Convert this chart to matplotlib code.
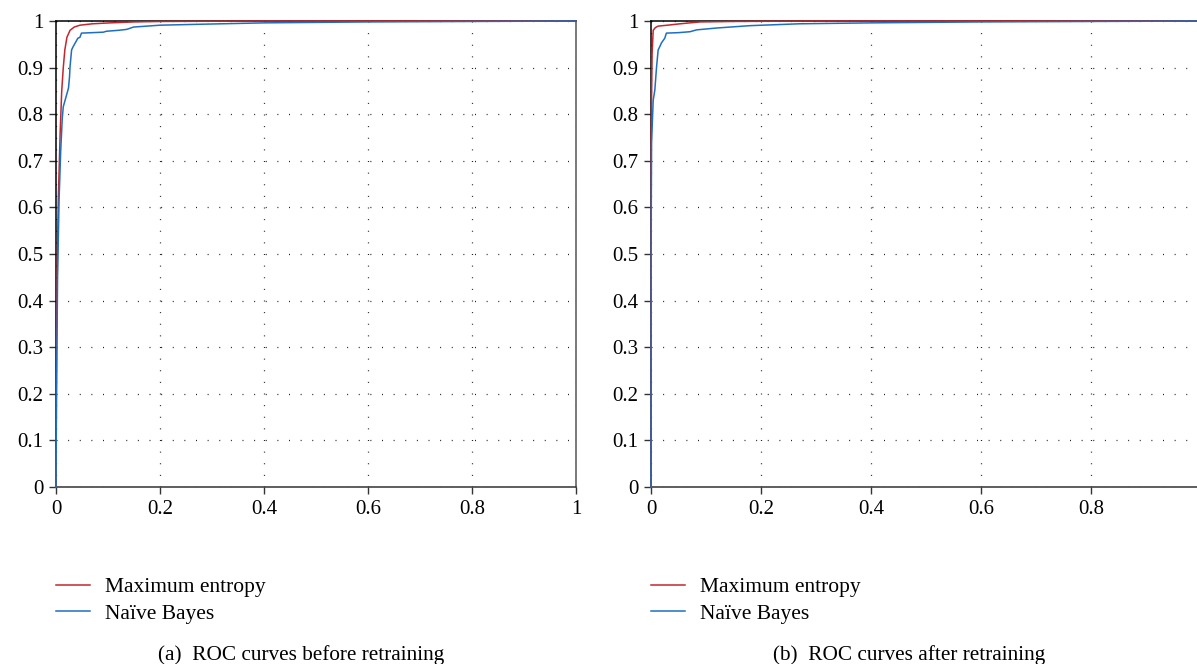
#!/usr/bin/env python3
import numpy as np
import matplotlib
matplotlib.use("Agg")
import matplotlib.pyplot as plt

plt.rcParams['font.family'] = ['Liberation Serif', 'DejaVu Serif']

# (a) before retraining
fpr_a_me = [0, 0.001, 0.003, 0.0045, 0.008, 0.011, 0.014, 0.017, 0.021, 0.027, 0.035, 0.046, 0.07, 0.104, 0.15, 0.2, 0.4, 0.6, 0.8, 1.0]
tpr_a_me = [0, 0.3, 0.52, 0.62, 0.76, 0.85, 0.9, 0.938, 0.965, 0.98, 0.987, 0.991, 0.994, 0.996, 0.998, 0.999, 1.0, 1.0, 1.0, 1.0]
fpr_a_nb = [0, 0.001, 0.003, 0.006, 0.009, 0.012, 0.014, 0.02, 0.024, 0.026, 0.027, 0.030, 0.033, 0.037, 0.042, 0.046, 0.049,
            0.07, 0.091, 0.097, 0.12, 0.136, 0.149, 0.2, 0.277, 0.4, 0.6, 0.8, 1.0]
tpr_a_nb = [0, 0.2, 0.45, 0.62, 0.72, 0.79, 0.816, 0.84, 0.856, 0.88, 0.902, 0.938, 0.945, 0.953, 0.963, 0.965, 0.974,
            0.975, 0.976, 0.978, 0.98, 0.982, 0.987, 0.991, 0.993, 0.996, 0.998, 0.999, 1.0]

# (b) after retraining
fpr_b_me = [0, 0.0005, 0.001, 0.002, 0.004, 0.008, 0.013, 0.03, 0.053, 0.089, 0.15, 0.3, 1.0]
tpr_b_me = [0, 0.75, 0.83, 0.93, 0.98, 0.986, 0.989, 0.991, 0.994, 0.998, 0.999, 1.0, 1.0]
fpr_b_nb = [0, 0.0005, 0.001, 0.004, 0.007, 0.01, 0.013, 0.016, 0.019, 0.022, 0.025, 0.028, 0.05, 0.071, 0.083,
            0.12, 0.18, 0.27, 0.4, 0.6, 0.8, 1.0]
tpr_b_nb = [0, 0.6, 0.738, 0.83, 0.852, 0.9, 0.938, 0.945, 0.953, 0.958, 0.963, 0.974, 0.975, 0.977, 0.981,
            0.985, 0.99, 0.994, 0.996, 0.998, 0.999, 1.0]

labels = ["Maximum entropy", "Na\u00efve Bayes"]
captions = ["(a)  ROC curves before retraining", "(b)  ROC curves after retraining"]
red = "#c1272d"
blue = "#1f6fc0"

fig = plt.figure(figsize=(11.97, 6.64), dpi=100)
ax1 = fig.add_axes([56/1197, 1-487/664, 520/1197, 466/664])
ax2 = fig.add_axes([651/1197, 1-487/664, 550/1197, 466/664])

panels = [(ax1, fpr_a_me, tpr_a_me, fpr_a_nb, tpr_a_nb), (ax2, fpr_b_me, tpr_b_me, fpr_b_nb, tpr_b_nb)]
for i, (ax, fm, tm, fn, tn) in enumerate(panels):
    ax.plot(fm, tm, color=red, lw=1.1, label=labels[0], clip_on=False, zorder=3)
    ax.plot(fn, tn, color=blue, lw=1.1, label=labels[1], clip_on=False, zorder=4)
    ax.set_xlim(0, 1)
    ax.set_ylim(0, 1)
    ax.set_yticks(np.arange(0, 1.01, 0.1))
    ax.set_yticklabels(["0"] + ["%.1f" % v for v in np.arange(0.1, 0.95, 0.1)] + ["1"])
    if i == 0:
        ax.set_xticks([0, 0.2, 0.4, 0.6, 0.8, 1.0])
        ax.set_xticklabels(["0", "0.2", "0.4", "0.6", "0.8", "1"])
    else:
        ax.set_xticks([0, 0.2, 0.4, 0.6, 0.8])
        ax.set_xticklabels(["0", "0.2", "0.4", "0.6", "0.8"])
    ax.grid(True, color="#222222", linestyle=(0, (0.8, 8.5)), linewidth=0.9)
    ax.tick_params(direction="out", length=5, width=1, labelsize=15, pad=4, color="#333333")
    for s in ["left", "bottom", "top", "right"]:
        ax.spines[s].set_linewidth(1.1)
    ax.spines["left"].set_color("black")
    ax.spines["bottom"].set_color("#333333")
    ax.spines["right"].set_color("#555555")
    ax.spines["top"].set_color("black")
    ax.legend(loc="upper left", bbox_to_anchor=(ax.get_position().x0, 0.131), bbox_transform=fig.transFigure,
              frameon=False, fontsize=15.5, handlelength=1.58, handletextpad=0.7, borderpad=0, borderaxespad=0,
              labelspacing=0.3)

fig.text(158/1197, 1-655/664, captions[0], fontsize=15.3, ha="left", va="center")
fig.text(773/1197, 1-655/664, captions[1], fontsize=15.3, ha="left", va="center")

plt.savefig("out.png", dpi=100)
